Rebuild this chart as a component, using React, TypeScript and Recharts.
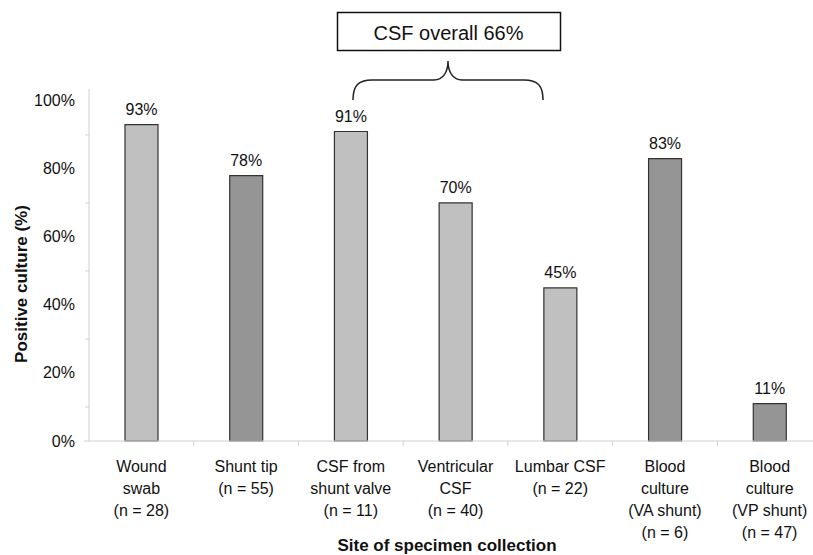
import { BarChart, Bar, Cell, XAxis, YAxis, LabelList } from "recharts";

const SITES = [
  "Wound\nswab\n(n = 28)",
  "Shunt tip\n(n = 55)",
  "CSF from\nshunt valve\n(n = 11)",
  "Ventricular\nCSF\n(n = 40)",
  "Lumbar CSF\n(n = 22)",
  "Blood\nculture\n(VA shunt)\n(n = 6)",
  "Blood\nculture\n(VP shunt)\n(n = 47)",
];
const POSITIVE = [93, 78, 91, 70, 45, 83, 11];
const Y_TICKS = [0, 10, 20, 30, 40, 50, 60, 70, 80, 90, 100];
const CSF_OVERALL = "CSF overall 66%";

// styling
const BAR_FILLS = ["#c0c0c0", "#959595", "#c0c0c0", "#c0c0c0", "#c0c0c0", "#959595", "#959595"];
const AXIS_GREY = "#d0d0d0";
const FONT = "'Liberation Sans', Arial, sans-serif";
const W = 822;
const H = 555;
const LEFT = 89;
const BAND = (W - LEFT) / SITES.length;

const data = SITES.map((site, i) => ({ site, value: POSITIVE[i] }));

function SiteTick(props: any) {
  const { x, y, payload, index } = props;
  const lines = String(payload.value).split("\n");
  return (
    <g>
      {index === 0 && <line x1={x - BAND / 2 - 5} x2={x - BAND / 2} y1={y - 5} y2={y - 5} stroke={AXIS_GREY} />}
      {index < SITES.length - 1 && (
        <line x1={x + BAND / 2} x2={x + BAND / 2} y1={y - 5} y2={y} stroke={AXIS_GREY} />
      )}
      <text x={x} y={y} textAnchor="middle" fontSize={16} fill="#111" fontFamily={FONT}>
        {lines.map((l, i) => (
          <tspan key={i} x={x} dy={i === 0 ? 26 : 22}>
            {l}
          </tspan>
        ))}
      </text>
    </g>
  );
}

function PctTick(props: any) {
  const { x, y, payload } = props;
  if (payload.value % 20 !== 0) {
    return <line x1={x + 10} x2={x + 14} y1={y} y2={y} stroke={AXIS_GREY} />;
  }
  return (
    <text x={x} y={y} dy={5.5} textAnchor="end" fontSize={16} fill="#111" fontFamily={FONT}>
      {payload.value}%
    </text>
  );
}

export default function App() {
  return (
    <div
      style={{
        position: "absolute",
        left: 0,
        top: 0,
        width: 813,
        height: H,
        overflow: "hidden",
        background: "#fff",
        fontFamily: FONT,
      }}
    >
      <BarChart width={W} height={H} data={data} margin={{ top: 89, right: 0, left: 0, bottom: 0 }}>
        <XAxis
          dataKey="site"
          interval={0}
          height={H - 441}
          tickSize={5}
          tickMargin={0}
          tickLine={false}
          axisLine={{ stroke: AXIS_GREY }}
          tick={<SiteTick />}
          label={{
            content: () => (
              <text x={447} y={551} textAnchor="middle" fontSize={17} fontWeight="bold" fill="#111" fontFamily={FONT}>
                Site of specimen collection
              </text>
            ),
          }}
        />
        <YAxis
          domain={[0, 103.5]}
          ticks={Y_TICKS}
          width={LEFT}
          tickSize={4}
          tickMargin={10}
          tickLine={false}
          axisLine={{ stroke: AXIS_GREY }}
          tick={<PctTick />}
          label={{
            content: () => (
              <text
                x={21}
                y={284}
                transform="rotate(-90 21 284)"
                textAnchor="middle"
                dominantBaseline="central"
                fontSize={17}
                fontWeight="bold"
                fill="#111"
                fontFamily={FONT}
              >
                Positive culture (%)
              </text>
            ),
          }}
        />
        <Bar dataKey="value" barSize={33} stroke="#333" strokeWidth={1.2} isAnimationActive={false}>
          {data.map((d, i) => (
            <Cell key={d.site} fill={BAR_FILLS[i]} />
          ))}
          <LabelList
            dataKey="value"
            position="top"
            offset={10}
            formatter={(v: any) => `${v}%`}
            style={{ fontSize: 16, fill: "#111", fontFamily: FONT }}
          />
        </Bar>
      </BarChart>
      <svg
        width={813}
        height={H}
        style={{ position: "absolute", left: 0, top: 0, pointerEvents: "none" }}
      >
        <rect x={337.5} y={12.5} width={223} height={38} fill="#fff" stroke="#111" strokeWidth={1.5} />
        <text x={448.5} y={39.5} textAnchor="middle" fontSize={20} fill="#111" fontFamily={FONT}>
          {CSF_OVERALL}
        </text>
        <path
          d="M353,100 C353,86 358,80 372,80 L434,80 C443,80 448,72 448,61 C448,72 453,80 462,80 L524,80 C538,80 543,86 543,100"
          fill="none"
          stroke="#222"
          strokeWidth={1.5}
        />
      </svg>
    </div>
  );
}
